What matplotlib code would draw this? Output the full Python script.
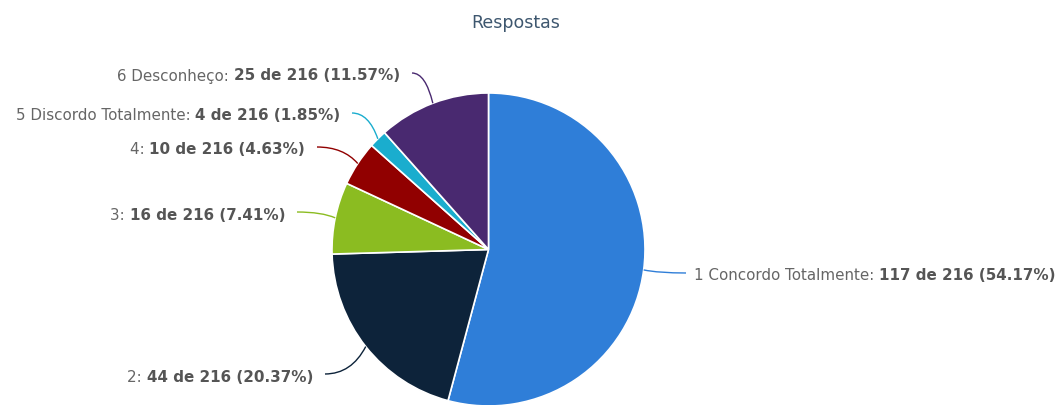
import matplotlib
matplotlib.use("Agg")
import matplotlib.pyplot as plt
from matplotlib.path import Path
from matplotlib.patches import PathPatch
import numpy as np

plt.rcParams["font.family"] = ["DejaVu Sans"]

# ---- data ----
categories = ["1 Concordo Totalmente", "2", "3", "4", "5 Discordo Totalmente", "6 Desconheço"]
counts = [117, 44, 16, 10, 4, 25]
total = 216
percents = ["54.17%", "20.37%", "7.41%", "4.63%", "1.85%", "11.57%"]
colors = ["#2f7ed8", "#0d233a", "#8bbc21", "#910000", "#1aadce", "#492970"]
title = "Respostas"

# ---- layout (pixel coordinates, y from top) ----
W, H = 1063, 405
cx, cy, R = 488.5, 249.5, 156.5
label_pos = [(694, 275, "left"), (313, 376, "right"), (285, 214, "right"),
             (305, 149, "right"), (340, 115, "right"), (400, 75, "right")]

fig = plt.figure(figsize=(W / 100, H / 100), dpi=100)
ax = fig.add_axes([0, 0, 1, 1])
wedges, _ = ax.pie(counts, colors=colors, startangle=90, counterclock=False,
                   center=(cx, H - cy), radius=R,
                   wedgeprops=dict(edgecolor="white", linewidth=1.2))
ax.set_xlim(0, W)
ax.set_ylim(0, H)
ax.set_aspect("equal")
ax.axis("off")

renderer = fig.canvas.get_renderer()

# title sized to span ~88 px
tt = fig.text(516 / W, 1 - 23 / H, title, ha="center", va="center",
              fontsize=12, color="#3e576f")
tw = tt.get_window_extent(renderer).width
tt.set_fontsize(12 * 88 / tw)

# label font sized so that the longest label spans ~363 px
fs = 10.0
probe = ax.text(0, 0, "1 Concordo Totalmente: ", fontsize=fs)
probe_b = ax.text(0, 0, "117 de 216 (54.17%)", fontsize=fs, fontweight="bold")
pw = probe.get_window_extent(renderer).width + probe_b.get_window_extent(renderer).width
probe.remove(); probe_b.remove()
fs = fs * 363 / pw

normal_c = "#666666"
bold_c = "#555555"

for w, cat, n, pct, col, (lx, ly, side) in zip(wedges, categories, counts, percents, colors, label_pos):
    base = H - ly - 5.5
    normal = f"{cat}: "
    bold = f"{n} de {total} ({pct})"
    if side == "right":
        tb = ax.text(lx, base, bold, ha="right", va="baseline", fontsize=fs,
                     fontweight="bold", color=bold_c)
        bb = tb.get_window_extent(renderer)
        ax.text(bb.x0, base, normal, ha="right", va="baseline", fontsize=fs, color=normal_c)
        sx = lx + 12
    else:
        tn = ax.text(lx, base, normal, ha="left", va="baseline", fontsize=fs, color=normal_c)
        bb = tn.get_window_extent(renderer)
        ax.text(bb.x1, base, bold, ha="left", va="baseline", fontsize=fs,
                fontweight="bold", color=bold_c)
        sx = lx - 8
    mid = np.deg2rad((w.theta1 + w.theta2) / 2)
    ex = cx + R * np.cos(mid)
    ey = (H - cy) + R * np.sin(mid)
    sy = H - ly + 2
    ctrl = (sx + 0.65 * (ex - sx), sy)
    path = Path([(sx, sy), ctrl, (ex, ey)], [Path.MOVETO, Path.CURVE3, Path.CURVE3])
    ax.add_patch(PathPatch(path, fill=False, edgecolor=col, linewidth=1.0, clip_on=False))

fig.savefig("out.png", dpi=100, facecolor="white")
